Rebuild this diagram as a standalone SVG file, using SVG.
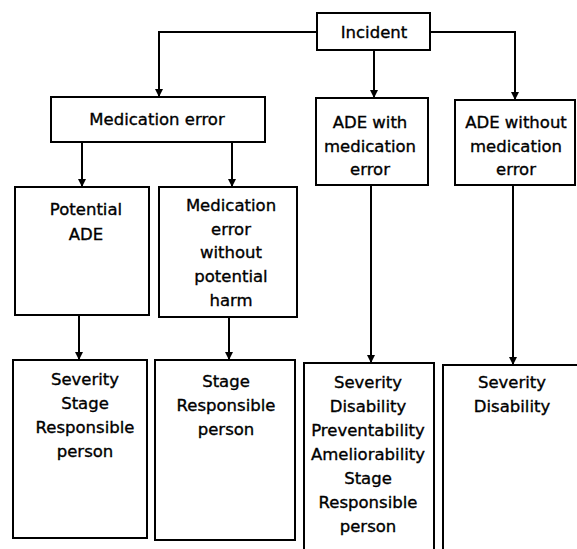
<svg xmlns="http://www.w3.org/2000/svg" width="577" height="549" viewBox="0 0 577 549">
<style>
.box{fill:#fff;stroke:#000;stroke-width:2}
.con{fill:none;stroke:#000;stroke-width:2}
text{font-family:"DejaVu Sans","Liberation Sans",sans-serif;font-size:16.5px;fill:#000;stroke:#000;stroke-width:0.35;text-anchor:middle}
</style>
<defs>
<marker id="ah" markerUnits="userSpaceOnUse" markerWidth="8" markerHeight="10" refX="8" refY="4" orient="auto">
<path d="M0,0 L8,4 L0,8 Z" fill="#000"/>
</marker>
</defs>
<rect width="577" height="549" fill="#fff"/>
<g id="connectors">
<path class="con" d="M317,32 H159 V97" marker-end="url(#ah)"/>
<path class="con" d="M374,50 V98" marker-end="url(#ah)"/>
<path class="con" d="M430,32 H515 V100" marker-end="url(#ah)"/>
<path class="con" d="M82,142 V187" marker-end="url(#ah)"/>
<path class="con" d="M232,142 V187" marker-end="url(#ah)"/>
<path class="con" d="M79,315 V360" marker-end="url(#ah)"/>
<path class="con" d="M229,317 V360" marker-end="url(#ah)"/>
<path class="con" d="M371,185 V363" marker-end="url(#ah)"/>
<path class="con" d="M513,185 V365" marker-end="url(#ah)"/>
</g>
<g id="incident">
<rect class="box" x="317" y="13" width="113" height="37"/>
<text x="374" y="38">Incident</text>
</g>
<g id="medication-error">
<rect class="box" x="51" y="97" width="214" height="45"/>
<text x="157" y="125">Medication error</text>
</g>
<g id="ade-with">
<rect class="box" x="316" y="98" width="112" height="87"/>
<text x="370" y="128">ADE with</text>
<text x="370" y="152">medication</text>
<text x="370" y="175">error</text>
</g>
<g id="ade-without">
<rect class="box" x="455" y="100" width="120" height="85"/>
<text x="516" y="128">ADE without</text>
<text x="516" y="152">medication</text>
<text x="516" y="175">error</text>
</g>
<g id="potential-ade">
<rect class="box" x="15" y="187" width="134" height="128"/>
<text x="86" y="215">Potential</text>
<text x="86" y="240">ADE</text>
</g>
<g id="me-no-harm">
<rect class="box" x="159" y="187" width="138" height="130"/>
<text x="231" y="211">Medication</text>
<text x="231" y="235">error</text>
<text x="231" y="258">without</text>
<text x="231" y="282">potential</text>
<text x="231" y="306">harm</text>
</g>
<g id="attr-potential">
<rect class="box" x="13" y="360" width="134" height="178"/>
<text x="85" y="385">Severity</text>
<text x="85" y="409">Stage</text>
<text x="85" y="433">Responsible</text>
<text x="85" y="457">person</text>
</g>
<g id="attr-no-harm">
<rect class="box" x="155" y="360" width="140" height="180"/>
<text x="226" y="387">Stage</text>
<text x="226" y="411">Responsible</text>
<text x="226" y="435">person</text>
</g>
<g id="attr-ade-with">
<rect class="box" x="304" y="363" width="130" height="200"/>
<text x="368" y="388">Severity</text>
<text x="368" y="412">Disability</text>
<text x="368" y="436">Preventability</text>
<text x="368" y="460">Ameliorability</text>
<text x="368" y="484">Stage</text>
<text x="368" y="508">Responsible</text>
<text x="368" y="532">person</text>
</g>
<g id="attr-ade-without">
<rect class="box" x="443" y="365" width="150" height="200"/>
<text x="512" y="388">Severity</text>
<text x="512" y="412">Disability</text>
</g>
</svg>
